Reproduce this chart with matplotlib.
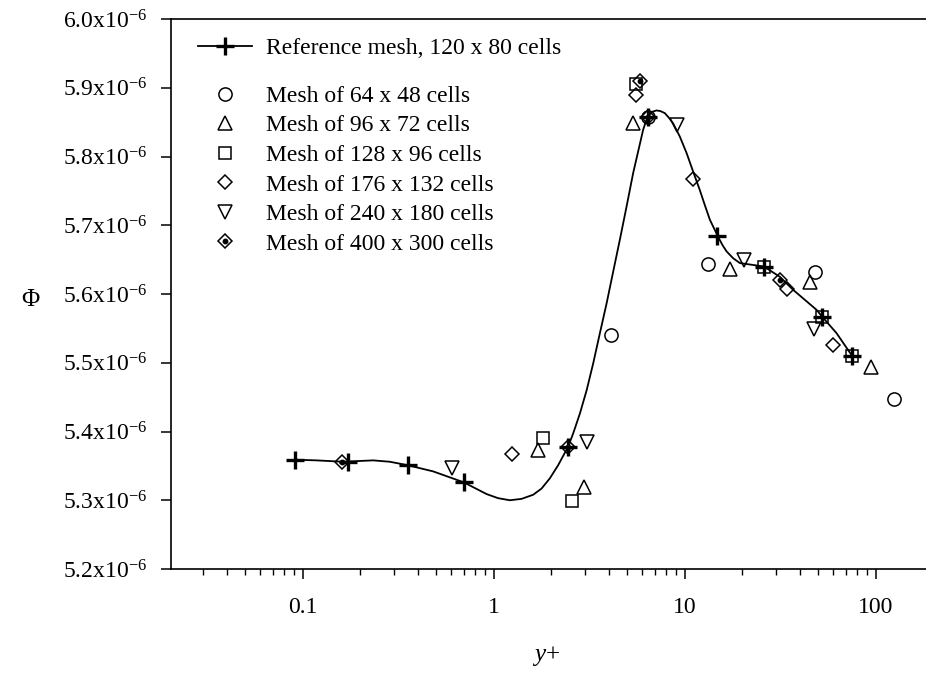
import numpy as np
import matplotlib
matplotlib.use("Agg")
import matplotlib.pyplot as plt
from matplotlib.ticker import FixedLocator, FixedFormatter, FuncFormatter, LogLocator, NullFormatter

plt.rcParams["font.family"] = ["Liberation Serif", "DejaVu Serif"]
plt.rcParams["mathtext.fontset"] = "custom"
plt.rcParams["mathtext.rm"] = "Liberation Serif"
plt.rcParams["mathtext.it"] = "Liberation Serif:italic"

SCALE = 1e-6

# Reference mesh (120 x 80): smooth profile and its computed nodes
ref_curve_y = [0.0908, 0.118, 0.1614, 0.2333, 0.2854, 0.3532, 0.4808, 0.6966, 0.7795,
               0.9158, 1.053, 1.213, 1.396, 1.606, 1.777, 1.965, 2.171, 2.449, 2.60, 2.82,
               3.06, 3.311, 3.59, 3.890, 4.21, 4.567, 4.95, 5.362, 5.69, 6.049, 6.25,
               6.427, 6.74, 7.107, 7.46, 7.859, 8.27, 8.684, 9.41, 10.21, 11.05, 11.98,
               12.73, 13.52, 14.94, 15.75, 16.53, 17.9, 19.41, 25.92, 31.44, 36.9,
               48.9, 52.34, 62.26, 75.1]
ref_curve_phi = [5.359, 5.358, 5.356, 5.358, 5.356, 5.351, 5.342, 5.326, 5.319,
                 5.309, 5.303, 5.300, 5.302, 5.308, 5.317, 5.332, 5.351, 5.378, 5.397, 5.426,
                 5.460, 5.499, 5.543, 5.586, 5.632, 5.679, 5.727, 5.776, 5.807, 5.839, 5.851,
                 5.859, 5.865, 5.867, 5.866, 5.863, 5.856, 5.848, 5.829, 5.805, 5.778, 5.751,
                 5.729, 5.708, 5.683, 5.671, 5.662, 5.652, 5.645, 5.640, 5.625, 5.606,
                 5.577, 5.567, 5.543, 5.510]
ref_nodes_y = [0.0908, 0.1726, 0.3532, 0.6966, 2.449, 6.43, 14.8, 25.92, 52.34, 75.1]
ref_nodes_phi = [5.359, 5.356, 5.351, 5.326, 5.378, 5.857, 5.685, 5.640, 5.567, 5.510]

# Other meshes
m64_y = [4.10, 6.43, 13.15, 47.9, 124.7]
m64_phi = [5.540, 5.857, 5.644, 5.632, 5.448]

m96_y = [1.706, 2.96, 5.32, 17.2, 45.1, 93.8]
m96_phi = [5.373, 5.320, 5.849, 5.637, 5.618, 5.494]

m128_y = [1.812, 2.57, 5.54, 25.9, 52.3, 75.1]
m128_phi = [5.390, 5.299, 5.906, 5.640, 5.567, 5.510]

m176_y = [1.247, 5.58, 11.05, 34.1, 59.8]
m176_phi = [5.368, 5.889, 5.768, 5.607, 5.526]

m240_y = [0.605, 3.08, 9.05, 20.4, 47.4]
m240_phi = [5.347, 5.384, 5.846, 5.650, 5.549]

m400_y = [0.161, 2.45, 5.81, 6.43, 31.4]
m400_phi = [5.356, 5.378, 5.910, 5.857, 5.621]

y_ticks = [5.2, 5.3, 5.4, 5.5, 5.6, 5.7, 5.8, 5.9, 6.0]
x_ticks = [0.1, 1, 10, 100]
x_tick_labels = ["0.1", "1", "10", "100"]

FS = 17

fig = plt.figure(figsize=(9.26, 6.77), dpi=100)
ax = fig.add_axes([171 / 926, 1 - 569 / 677, 1 - 171 / 926, (569 - 19) / 677])


def s(vals):
    return np.asarray(vals) * SCALE


ax.plot(ref_curve_y, s(ref_curve_phi), color="black", lw=1.3, zorder=2,
        solid_joinstyle="round")
ref_handle, = ax.plot(ref_nodes_y, s(ref_nodes_phi), ls="none", marker="+",
                      ms=13, mew=2.4, color="black", zorder=3)

open_kw = dict(ls="none", mfc="none", mec="black", mew=1.1, zorder=4)
h64, = ax.plot(m64_y, s(m64_phi), marker="o", ms=9.5, **open_kw)
h96, = ax.plot(m96_y, s(m96_phi), marker="^", ms=10, **open_kw)
h128, = ax.plot(m128_y, s(m128_phi), marker="s", ms=9, **open_kw)
h176, = ax.plot(m176_y, s(m176_phi), marker="D", ms=7, **open_kw)
h240, = ax.plot(m240_y, s(m240_phi), marker="v", ms=10, **open_kw)
h400a, = ax.plot(m400_y, s(m400_phi), marker="D", ms=7, **open_kw)
h400b, = ax.plot(m400_y, s(m400_phi), ls="none", marker="o", ms=3.2,
                 mfc="black", mec="black", zorder=5)

ax.set_xscale("log")
ax.set_xlim(0.0204, 183)
ax.set_ylim(5.2 * SCALE, 6.0 * SCALE)

ax.xaxis.set_major_locator(FixedLocator(x_ticks))
ax.xaxis.set_major_formatter(FixedFormatter(x_tick_labels))
ax.xaxis.set_minor_locator(LogLocator(base=10, subs=np.arange(2, 10)))
ax.xaxis.set_minor_formatter(NullFormatter())
ax.yaxis.set_major_locator(FixedLocator(s(y_ticks)))
ax.yaxis.set_major_formatter(FuncFormatter(lambda v, _: f"{v / SCALE:.1f}x10$^{{-6}}$"))

ax.tick_params(axis="both", which="major", direction="out", length=7, width=1.1,
               labelsize=FS, pad=10, color="black")
ax.tick_params(axis="x", which="major", pad=13)
ax.tick_params(axis="x", which="minor", direction="out", length=4.5, width=1.0)
ax.tick_params(top=False, right=False, which="both")
for side in ("left", "bottom", "top"):
    ax.spines[side].set_linewidth(1.2)
ax.spines["right"].set_visible(False)

fig.text(30 / 926, 1 - 300 / 677, "Φ", fontsize=FS + 1, ha="center", va="center")
fig.text(546 / 926, 1 - 656 / 677, "$y$+", fontsize=FS + 1, ha="center", va="center")

leg1 = ax.legend([ref_handle], ["Reference mesh, 120 x 80 cells"],
                 loc="center left", bbox_to_anchor=(198 / 926, 1 - 48 / 677),
                 bbox_transform=fig.transFigure, frameon=False, fontsize=FS,
                 borderpad=0, borderaxespad=0, handlelength=2.3, handletextpad=0.6)
# show the line through the + in the legend entry
leg1.legend_handles[0].set_linestyle("-")
leg1.legend_handles[0].set_linewidth(1.3)
ax.add_artist(leg1)

ax.legend([h64, h96, h128, h176, h240, (h400a, h400b)],
          ["Mesh of 64 x 48 cells", "Mesh of 96 x 72 cells", "Mesh of 128 x 96 cells",
           "Mesh of 176 x 132 cells", "Mesh of 240 x 180 cells", "Mesh of 400 x 300 cells"],
          loc="center left", bbox_to_anchor=(198 / 926, 1 - 170 / 677),
          bbox_transform=fig.transFigure, frameon=False, fontsize=FS,
          borderpad=0, borderaxespad=0, handlelength=2.3, handletextpad=0.6,
          labelspacing=0.34)

fig.savefig("out.png", dpi=100)
